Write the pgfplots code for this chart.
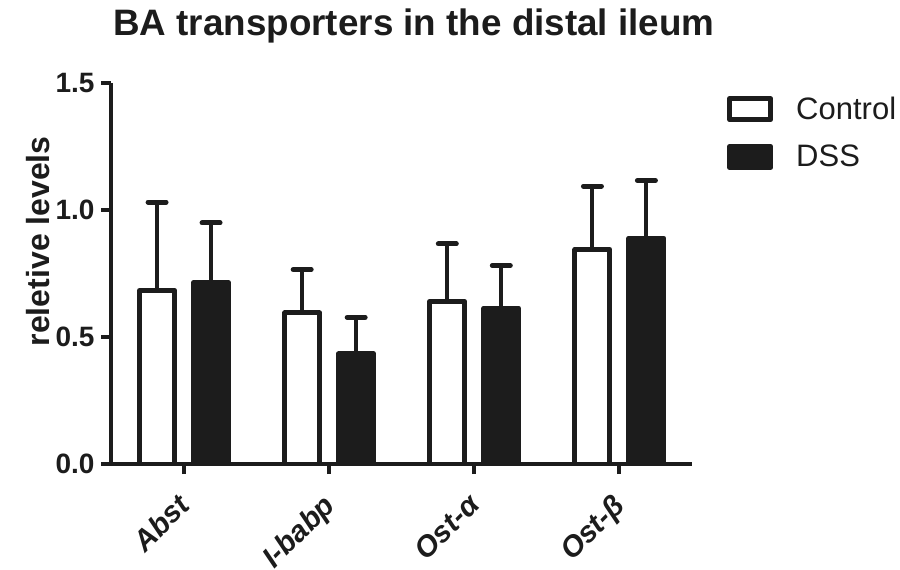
\documentclass[border=0pt]{standalone}
\usepackage{pgfplots}
\pgfplotsset{compat=1.18}
\usepackage{fontspec}
\setmainfont{Liberation Sans}
\definecolor{ink}{HTML}{1C1C1C}
\pgfplotstableread{
x  c      ce     d      de
1  0.684  0.348  0.714  0.236
2  0.595  0.171  0.434  0.144
3  0.641  0.226  0.614  0.168
4  0.845  0.250  0.890  0.227
}\datatab
\begin{document}
\begin{tikzpicture}
\useasboundingbox (-55.75pt,-52.5pt) rectangle (394.25pt,232pt);
\begin{axis}[
  at={(0pt,0pt)}, anchor=south west,
  scale only axis, width=290.25pt, height=190.35pt,
  xmin=0.5, xmax=4.5, ymin=0, ymax=1.5,
  axis lines=left,
  axis line style={-, line width=2pt, ink},
  tick align=outside,
  major tick length=5pt,
  tick style={line width=2pt, ink},
  xtick={1,2,3,4},
  xticklabels={Abst, I-babp, Ost-α, Ost-β},
  ytick={0,0.5,1,1.5},
  minor tick num=0,
  /pgf/number format/assume math mode=true,
  yticklabel style={/pgf/number format/fixed, /pgf/number format/fixed zerofill, /pgf/number format/precision=1,
    font=\fontsize{14}{16}\selectfont\bfseries, text=ink},
  xticklabel style={rotate=45, anchor=north east, font=\fontsize{14.7}{18}\selectfont\bfseries\itshape, text=ink, inner sep=1pt, yshift=-2.5pt, xshift=-8pt},
  ylabel={reletive levels},
  ylabel style={at={(axis description cs:-0.106,0.585)}, anchor=base, rotate=0, font=\fontsize{16}{19}\selectfont\bfseries, text=ink},
  ybar, bar width=0.241,
  error bars/y dir=plus, error bars/y explicit,
  error bars/error mark=|,
  error bars/error bar style={line width=2pt, ink},
  error bars/error mark options={line width=2.5pt, mark size=4.5pt, ink, line cap=round},
  legend style={at={(axis description cs:1.06,0.967)}, anchor=north west, draw=none, fill=none, inner sep=0pt,
    row sep=10.7pt, font=\fontsize{15.5}{18}\selectfont, text=ink, nodes={inner sep=0pt},
    /tikz/every odd column/.append style={column sep=11.5pt}},
  legend cell align=left,
  legend image code/.code={\draw[#1, line width=2.5pt, line join=round] (1.25pt,-5pt) rectangle (21.75pt,5.5pt);},
]
\addplot[fill=white, draw=ink, line width=2.5pt, line join=round, bar shift=-0.186]
  table[x=x, y=c, y error=ce] {\datatab};
\addlegendentry{Control}
\addplot[fill=ink, draw=ink, line width=2.5pt, line join=round, bar shift=0.186]
  table[x=x, y=d, y error=de] {\datatab};
\addlegendentry{DSS}
\end{axis}
\node[anchor=base west, inner sep=0pt, font=\fontsize{18.4}{22}\selectfont\bfseries, text=ink] at (0.75pt,214.5pt) {BA transporters in the distal ileum};
\end{tikzpicture}
\end{document}
